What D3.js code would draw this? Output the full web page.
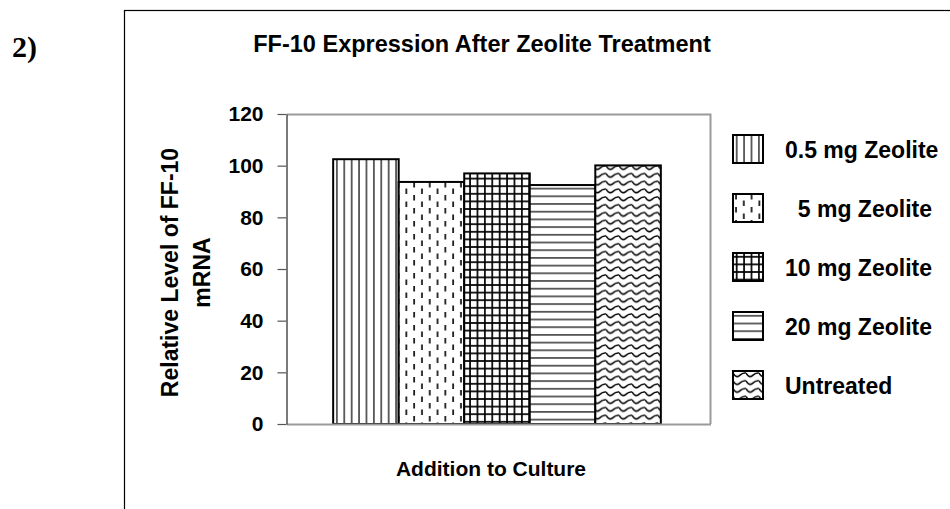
<!DOCTYPE html>
<html>
<head>
<meta charset="utf-8">
<script src="https://cdn.jsdelivr.net/npm/d3@7/dist/d3.min.js"></script>
<style>
  body { margin: 0; background: #fff; }
  text { font-family: "Liberation Sans", Arial, sans-serif; font-weight: bold; fill: #000; }
</style>
</head>
<body>
<script>
// chart data
var categories = [""];
var seriesNames = ["0.5 mg Zeolite", "5 mg Zeolite", "10 mg Zeolite", "20 mg Zeolite", "Untreated"];
var legendLabels = ["0.5 mg Zeolite", "  5 mg Zeolite", "10 mg Zeolite", "20 mg Zeolite", "Untreated"];
var seriesValues = [102.5, 93.7, 97.0, 92.5, 100.1];
var patternIds = ["pVert", "pDash", "pGrid", "pHorz", "pWave"];
var yTicks = [0, 20, 40, 60, 80, 100, 120];

var width = 950,
    height = 509;

var svg = d3.select("body").append("svg")
    .attr("width", width)
    .attr("height", height);

// patterns for the bars
var defs = svg.append("defs");

var pv = defs.append("pattern").attr("id", "pVert")
    .attr("patternUnits", "userSpaceOnUse").attr("width", 7.4).attr("height", 10);
pv.append("rect").attr("width", 7.4).attr("height", 10).attr("fill", "#fff");
pv.append("line").attr("x1", 3.7).attr("x2", 3.7).attr("y1", 0).attr("y2", 10)
    .attr("stroke", "#000").attr("stroke-width", 1.2);

var pd = defs.append("pattern").attr("id", "pDash")
    .attr("patternUnits", "userSpaceOnUse").attr("width", 15.6).attr("height", 13);
pd.append("rect").attr("width", 15.6).attr("height", 13).attr("fill", "#fff");
pd.append("line").attr("x1", 3).attr("x2", 3).attr("y1", 0).attr("y2", 5.5)
    .attr("stroke", "#000").attr("stroke-width", 1.6);
pd.append("line").attr("x1", 10.8).attr("x2", 10.8).attr("y1", 6.5).attr("y2", 12)
    .attr("stroke", "#000").attr("stroke-width", 1.6);

var pg = defs.append("pattern").attr("id", "pGrid")
    .attr("patternUnits", "userSpaceOnUse").attr("width", 7.4).attr("height", 7.6);
pg.append("rect").attr("width", 7.4).attr("height", 7.6).attr("fill", "#fff");
pg.append("line").attr("x1", 3.7).attr("x2", 3.7).attr("y1", 0).attr("y2", 7.6)
    .attr("stroke", "#000").attr("stroke-width", 1.7);
pg.append("line").attr("x1", 0).attr("x2", 7.4).attr("y1", 3.8).attr("y2", 3.8)
    .attr("stroke", "#000").attr("stroke-width", 1.7);

var ph = defs.append("pattern").attr("id", "pHorz")
    .attr("patternUnits", "userSpaceOnUse").attr("width", 10).attr("height", 7.7);
ph.append("rect").attr("width", 10).attr("height", 7.7).attr("fill", "#fff");
ph.append("line").attr("x1", 0).attr("x2", 10).attr("y1", 3.8).attr("y2", 3.8)
    .attr("stroke", "#000").attr("stroke-width", 1.2);

var pw = defs.append("pattern").attr("id", "pWave")
    .attr("patternUnits", "userSpaceOnUse").attr("width", 13).attr("height", 7.8);
pw.append("rect").attr("width", 13).attr("height", 7.8).attr("fill", "#fff");
pw.append("path").attr("d", "M0,2 Q3.25,7.5 6.5,4.5 Q9.75,1.5 13,2")
    .attr("fill", "none").attr("stroke", "#000").attr("stroke-width", 1.6);

// outer frame
svg.append("rect")
    .attr("x", 124.5).attr("y", 10.5)
    .attr("width", 900).attr("height", 600)
    .attr("fill", "none").attr("stroke", "#000").attr("stroke-width", 1.2);

svg.append("text")
    .attr("x", 12).attr("y", 57)
    .style("font-family", "'Liberation Serif', 'Times New Roman', serif")
    .style("font-size", "30px")
    .text("2)");

// plot area
var plot = {left: 287, top: 114, right: 710, bottom: 424};

var y = d3.scaleLinear()
    .domain([0, 120])
    .range([plot.bottom, plot.top]);

var x0 = d3.scaleBand()
    .domain(categories)
    .range([plot.left, plot.right])
    .paddingInner(0.127)
    .paddingOuter(0.127);

var x1 = d3.scaleBand()
    .domain(seriesNames)
    .range([0, x0.bandwidth()]);

// plot border (top + right)
svg.append("path")
    .attr("d", "M" + plot.left + "," + (plot.top + 0.5) + "H" + (plot.right + 0.5) + "V" + plot.bottom)
    .attr("fill", "none").attr("stroke", "#9a9a9a").attr("stroke-width", 2);

// bars
var group = svg.append("g")
    .attr("transform", "translate(" + (x0(categories[0]) - 1.5) + ",0)");

group.selectAll("rect")
    .data(seriesValues)
    .enter()
    .append("rect")
    .attr("x", function(d, i) { return x1(seriesNames[i]); })
    .attr("y", function(d) { return y(d); })
    .attr("width", x1.bandwidth())
    .attr("height", function(d) { return y(0) - y(d); })
    .attr("fill", function(d, i) { return "url(#" + patternIds[i] + ")"; })
    .attr("stroke", "#000")
    .attr("stroke-width", 2);

// bottom axis line
svg.append("line")
    .attr("x1", plot.left).attr("x2", plot.right + 1)
    .attr("y1", plot.bottom + 0.5).attr("y2", plot.bottom + 0.5)
    .attr("stroke", "#9a9a9a").attr("stroke-width", 2);

// y axis
var yAxis = svg.append("g")
    .attr("transform", "translate(" + (plot.left - 0.5) + ",0)")
    .call(d3.axisLeft(y).tickValues(yTicks).tickSize(9).tickPadding(14).tickSizeOuter(0));

yAxis.select(".domain").attr("stroke", "#333").attr("stroke-width", 1.3);
yAxis.selectAll(".tick line").attr("stroke", "#555").attr("stroke-width", 1.2);
yAxis.selectAll(".tick text")
    .style("font-family", "'Liberation Sans', Arial, sans-serif")
    .style("font-weight", "bold")
    .style("font-size", "21px")
    .attr("fill", "#000");

// titles
svg.append("text")
    .attr("x", 482).attr("y", 52)
    .attr("text-anchor", "middle")
    .style("font-size", "23.5px")
    .text("FF-10 Expression After Zeolite Treatment");

svg.append("text")
    .attr("x", 491).attr("y", 476)
    .attr("text-anchor", "middle")
    .style("font-size", "21px")
    .text("Addition to Culture");

var yTitle = svg.append("text")
    .attr("transform", "translate(178,272.5) rotate(-90)")
    .attr("text-anchor", "middle")
    .style("font-size", "23px");
yTitle.append("tspan").attr("x", 0).attr("y", 0).text("Relative Level of FF-10");
yTitle.append("tspan").attr("x", 0).attr("y", 32).text("mRNA");

// legend
var legend = svg.append("g")
    .attr("transform", "translate(733,135)");

var item = legend.selectAll("g")
    .data(legendLabels)
    .enter()
    .append("g")
    .attr("transform", function(d, i) { return "translate(0," + (i * 59) + ")"; });

item.append("rect")
    .attr("width", 30).attr("height", 28)
    .attr("fill", function(d, i) { return "url(#" + patternIds[i] + ")"; })
    .attr("stroke", "#000").attr("stroke-width", 2);

item.append("text")
    .attr("x", 52).attr("y", 22.5)
    .attr("xml:space", "preserve")
    .style("white-space", "pre")
    .style("font-size", "23px")
    .text(function(d) { return d; });
</script>
</body>
</html>
